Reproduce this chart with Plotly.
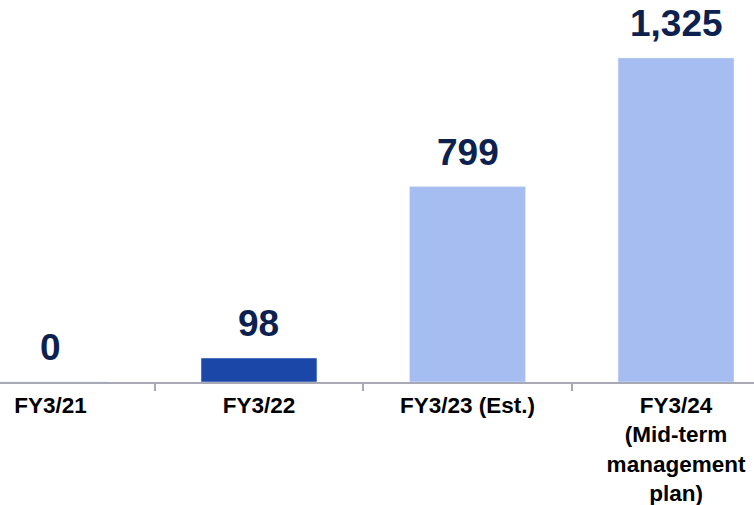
import plotly.graph_objects as go

# values
categories = ["FY3/21", "FY3/22", "FY3/23 (Est.)", "FY3/24<br>(Mid-term<br>management<br>plan)"]
values = [0, 98, 799, 1325]
bar_colors = ["#1b48a8", "#1b48a8", "#a6bdf2", "#a6bdf2"]

_LABEL = "#0d2150"
_AXIS = "#a8a8b6"
_FONT = "Liberation Sans, Arial, sans-serif"

fig = go.Figure(go.Bar(x=categories, y=values, marker_color=bar_colors, width=0.556, hoverinfo="skip"))

for cat, val in zip(categories, values):
    fig.add_annotation(
        x=cat, y=val, text=f"<b>{val:,}</b>", showarrow=False,
        yanchor="bottom", yshift=12,
        font=dict(family=_FONT, size=37, color=_LABEL),
    )

fig.update_layout(
    width=754, height=505,
    paper_bgcolor="white", plot_bgcolor="white",
    margin=dict(l=0, r=0, t=0, b=123, autoexpand=False),
    showlegend=False,
    font=dict(family=_FONT),
    xaxis=dict(
        type="category", range=[-0.242, 3.374], automargin=False,
        showline=True, linecolor=_AXIS, linewidth=2,
        ticks="outside", tickson="boundaries", ticklen=7, tickwidth=2, tickcolor=_AXIS,
        ticklabelstandoff=2,
        tickfont=dict(family=_FONT, size=22.5, color="#000000", weight="bold"),
        showgrid=False, zeroline=False,
    ),
    yaxis=dict(range=[0, 1562], visible=False, showgrid=False, zeroline=False, automargin=False),
)

# the page body has a default 8px margin; drop it so the chart fills the window
fig.write_html(
    "out.html",
    config={"displayModeBar": False},
    post_script="document.body.style.margin='0';document.body.style.overflow='hidden';",
)
